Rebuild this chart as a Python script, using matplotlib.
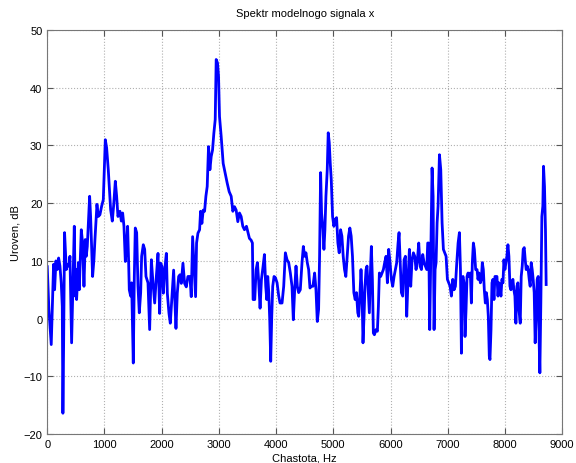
import matplotlib.pyplot as plt

plt.rcParams['font.family'] = ['Liberation Sans', 'DejaVu Sans']

# spectrum level vs frequency
freq = [0, 29, 70, 94, 111, 129, 152, 175, 199, 222, 245, 263, 274, 286, 303, 321, 333, 356, 379, 397,
        426, 473, 490, 508, 513, 531, 548, 560, 595, 618, 642, 665, 682, 700, 741, 758, 793, 816, 834, 869,
        892, 921, 951, 980, 1015, 1038, 1067, 1108, 1137, 1160, 1190, 1213, 1236, 1271, 1295, 1318, 1341, 1365, 1388, 1405,
        1423, 1434, 1458, 1475, 1504, 1522, 1539, 1563, 1586, 1609, 1633, 1650, 1679, 1703, 1726, 1761, 1790,
        1820, 1849, 1878, 1907, 1936, 1965, 1983, 2006, 2029, 2053, 2082, 2099, 2128, 2151, 2180, 2209, 2227, 2250,
        2273, 2297, 2320, 2343, 2372, 2401, 2430, 2459, 2494, 2517, 2541, 2564, 2593, 2610, 2634, 2663, 2680, 2703,
        2726, 2750, 2773, 2796, 2819, 2843, 2866, 2889, 2912, 2936, 2953, 2976, 2994, 3011, 3040, 3075, 3110, 3145,
        3180, 3215, 3244, 3273, 3302, 3331, 3360, 3389, 3418, 3447, 3482, 3505, 3534, 3563, 3586,
        3598, 3627, 3651, 3674, 3697, 3720, 3744, 3773, 3796, 3819, 3837, 3854, 3872, 3889, 3906, 3924, 3941, 3964,
        3988, 4017, 4046, 4069, 4104, 4133, 4162, 4191, 4220, 4249, 4278, 4301, 4325, 4348, 4371, 4394, 4423, 4453,
        4476, 4499, 4522, 4545, 4569, 4592, 4615, 4644, 4673, 4697, 4720, 4743, 4760, 4778, 4795, 4819, 4836, 4853,
        4871, 4894, 4911, 4929, 4946, 4964, 4987, 5010, 5034, 5057, 5080, 5103, 5127, 5150, 5173, 5196, 5219, 5243,
        5266, 5289, 5312, 5335, 5359, 5382, 5405, 5428,
        5444, 5467, 5484, 5502, 5519, 5537, 5554, 5572, 5589, 5607, 5630, 5648, 5665, 5683, 5700, 5718, 5747, 5770,
        5788, 5805, 5828, 5852, 5875, 5898, 5922, 5945, 5968, 5992, 6015, 6038, 6062, 6085, 6108, 6132, 6149, 6167,
        6190, 6213, 6237, 6260, 6283, 6306, 6330, 6353, 6376, 6400, 6423, 6446, 6470, 6493, 6516, 6540, 6563, 6586,
        6610, 6633, 6650, 6668, 6685, 6703, 6726, 6744, 6761, 6779, 6796, 6814, 6831, 6855, 6878, 6901, 6924, 6948,
        6971, 6994, 7018, 7041, 7064, 7088, 7111, 7134, 7158, 7181, 7204, 7222, 7239,
        7250, 7267, 7285, 7302, 7320, 7337, 7355, 7372, 7395, 7413, 7430, 7448, 7465, 7488, 7512, 7529, 7546, 7570,
        7587, 7604, 7622, 7639, 7657, 7674, 7692, 7709, 7726, 7738, 7756, 7773, 7790, 7808, 7825, 7843, 7860, 7878,
        7895, 7912, 7930, 7947, 7965, 7982, 7999, 8017, 8034, 8052, 8069, 8087, 8104, 8122, 8139, 8156, 8174, 8191,
        8209, 8226, 8244, 8267, 8284, 8302, 8319, 8337, 8354, 8371, 8389, 8406, 8424, 8441, 8459, 8476, 8493, 8511,
        8528, 8546, 8563, 8581, 8598, 8610, 8627, 8645, 8662, 8674, 8691, 8708, 8720]

level = [9.0, 1.6, -4.5, 4.0, 9.4, 5.0, 10.0, 8.5, 10.5, 9.1, 6.2, 2.1, -16.4, -5.0, 14.9, 10.8, 8.5, 9.4, 9.1, 10.8,
         -4.2, 16.0, 3.9, 8.5, 3.3, 6.8, 9.7, 5.0, 15.4, 13.1, 5.6, 13.7, 10.8, 12.5, 21.2, 17.7, 7.3, 10.2, 13.7, 19.8,
         17.7, 18.0, 19.5, 20.6, 31.0, 29.6, 25.8, 18.9, 16.9, 19.5, 23.8, 21.2, 17.7, 18.6, 16.9, 18.3, 16.0, 9.9, 13.1, 16.0,
         9.7, 5.0, 3.9, 6.2, -7.7, 7.3, 15.7, 14.9, 5.6, 1.0, 4.5, 10.8, 12.8, 12.0, 7.3, 6.2, -1.9,
         10.2, 6.1, 2.7, 7.3, 11.3, 0.9, 9.6, 9.0, 4.4, 8.4, 11.3, 4.4, 0.9, -0.8, 3.8, 8.4, 3.8, -1.7,
         4.4, 7.3, 7.6, 6.1, 9.6, 6.1, 5.5, 7.3, 7.3, 3.8, 14.2, 9.6, 3.8, 13.1, 14.8, 15.4, 18.6, 16.5,
         18.8, 18.6, 21.2, 22.9, 29.8, 25.8, 28.1, 29.2, 32.1, 34.5, 44.9, 44.3, 42.0, 35.0, 31.6, 26.9, 25.2, 23.5,
         22.0, 21.2, 18.6, 19.4, 18.8, 16.8, 18.3, 17.7, 16.0, 15.4, 16.0, 15.1, 13.9, 13.6, 13.1,
         3.3, 3.3, 8.5, 9.7, 6.2, 1.8, 6.8, 9.1, 11.1, 5.6, 3.3, 7.3, 4.5, -0.2, -7.4, 0.4, 5.6, 7.3,
         7.1, 6.2, 3.9, 2.7, 2.7, 5.6, 11.4, 10.2, 9.7, 7.9, 5.6, -0.2, 5.0, 9.1, 5.6, 4.5, 5.0, 9.7,
         12.5, 10.8, 11.4, 9.7, 8.5, 5.3, 5.6, 5.6, 7.9, 5.0, -0.5, 1.6, 10.8, 25.3, 18.3, 15.4, 12.0, 15.4,
         21.2, 25.8, 32.2, 30.5, 27.0, 24.1, 17.7, 16.0, 17.2, 17.5, 13.1, 11.4, 15.4, 14.3, 10.8, 8.5, 7.3, 10.8,
         14.3, 15.7, 14.3, 10.8, 4.5, 3.3, 4.5, 1.0,
         0.4, 4.5, 8.5, 4.5, -4.2, 0.4, 5.6, 8.5, 9.1, 5.6, 1.0, 7.9, 12.5, 6.8, -2.5, -2.8, -1.9, -2.2,
         2.1, 7.9, 7.3, 7.9, 8.5, 9.7, 10.8, 6.2, 12.0, 9.7, 6.8, 5.6, 7.3, 8.5, 9.7, 13.1, 14.9, 10.2,
         4.5, 3.9, 10.2, 10.8, 0.4, 6.8, 12.0, 5.6, 10.2, 11.4, 10.8, 8.5, 10.2, 13.1, 9.1, 8.5, 11.1, 9.7,
         9.1, 8.5, 13.1, 13.1, -1.9, 10.8, 26.1, 21.2, -1.9, 8.5, 9.7, 16.6, 19.5, 28.4, 25.8, 16.6, 12.0, 11.4,
         10.8, 6.8, 6.2, 5.6, 3.9, 6.8, 5.0, 5.6, 9.7, 13.1, 14.9, 8.5, -6.0,
         6.8, 7.3, 6.2, -3.1, 1.6, 7.3, 7.9, 7.3, 7.9, 2.7, 9.7, 13.1, 12.0, 8.5, 8.5, 6.8, 7.9, 6.2,
         6.8, 9.7, 8.5, 5.0, 2.7, 4.5, 3.3, 0.4, -6.5, -7.1, -1.9, 6.2, 6.8, 3.3, 7.3, 7.3, 7.3, 3.9,
         6.2, 5.6, 3.9, 6.8, 6.2, 10.2, 8.5, 9.7, 10.8, 12.8, 10.8, 5.6, 5.0, 6.2, 6.8, 5.0, 3.9, -0.8,
         5.6, 6.2, 1.6, -0.8, 7.3, 9.1, 12.0, 12.3, 10.2, 8.5, 9.1, 8.5, 6.8, 5.6, 9.7, 8.5, 6.8, 4.5,
         -4.2, 0.4, 6.8, 7.3, -4.2, -9.4, 2.7, 17.7, 19.5, 26.4, 22.9, 15.4, 5.9]

x_ticks = [0, 1000, 2000, 3000, 4000, 5000, 6000, 7000, 8000, 9000]
y_ticks = [-20, -10, 0, 10, 20, 30, 40, 50]

fig = plt.figure(figsize=(5.76, 4.64), dpi=100)
ax = fig.add_axes([0.082, 0.0625, 0.894, 0.8705])
ax.plot(freq, level, color='#0000ff', linewidth=2.0)

ax.set_xlim(0, 9000)
ax.set_ylim(-20, 50)
ax.set_xticks(x_ticks)
ax.set_yticks(y_ticks)
ax.grid(True, linestyle=':', color='#b0b0b0', linewidth=0.8)
ax.tick_params(direction='in', top=True, right=True, labelsize=8, length=4, color='#555555')
for s in ax.spines.values():
    s.set_color('#777777')

ax.set_title('Spektr modelnogo signala x', fontsize=8, pad=10)
ax.set_xlabel('Chastota, Hz', fontsize=8, labelpad=2.5)
ax.set_ylabel('Uroven, dB', fontsize=8, labelpad=2)

fig.savefig('out.png', dpi=100)
